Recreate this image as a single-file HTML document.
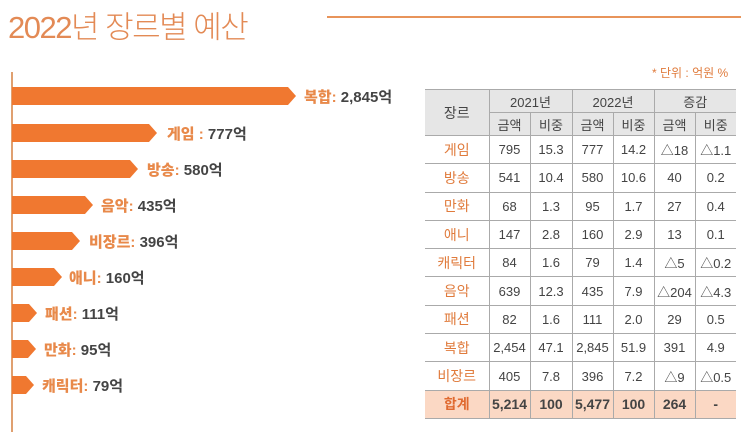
<!DOCTYPE html>
<html><head><meta charset="utf-8"><style>
*{margin:0;padding:0;box-sizing:border-box}
body{width:750px;height:436px;background:#fff;position:relative;overflow:hidden;font-family:"Liberation Sans","Noto Sans CJK KR",sans-serif}
.title{position:absolute;left:8px;top:2px;font-size:31px;color:#e38a55;font-weight:300;letter-spacing:-1.5px}
.topline{position:absolute;left:327px;top:16px;width:414px;height:2px;background:#e8945a}
.unit{position:absolute;left:652px;top:64px;font-size:12px;color:#e07b3c}
.axis{position:absolute;left:11px;top:72px;width:2px;height:360px;background:#e0a070}
.bar{position:absolute;left:12px;height:18px;background:#f07830}
.bar:after{content:"";position:absolute;right:-8px;top:0;border-left:8px solid #f07830;border-top:9px solid transparent;border-bottom:9px solid transparent}
.lab{position:absolute;font-size:15px;font-weight:bold;color:#444;white-space:nowrap}
.lab b{color:#e8894a}
table{position:absolute;left:425px;top:89px;border-collapse:collapse;font-size:13px;color:#444}
td{border:1px solid #aaa;text-align:center;height:28.3px;padding:0}
tr.h td{background:#e6e6e6;height:23px;font-size:13px}
td.g{color:#e07b3c;font-size:14px}
tr.t td{background:#fbd8c4;font-weight:bold;font-size:14px}
tr.t td.g{color:#e06a30}
table tr td:first-child{border-left:none}
table tr td:last-child{border-right:none}
</style></head><body>
<div class="title">2022년 장르별 예산</div>
<div class="topline"></div>
<div class="unit">* 단위 : 억원 %</div>
<div class="axis"></div>
<div class="bar" style="top:87px;width:276px"></div><div class="lab" style="left:304px;top:86px"><b>복합:</b> 2,845억</div>
<div class="bar" style="top:124px;width:137px"></div><div class="lab" style="left:167px;top:123px"><b>게임 :</b> 777억</div>
<div class="bar" style="top:160px;width:118px"></div><div class="lab" style="left:147px;top:159px"><b>방송:</b> 580억</div>
<div class="bar" style="top:196px;width:73px"></div><div class="lab" style="left:101px;top:195px"><b>음악:</b> 435억</div>
<div class="bar" style="top:232px;width:60px"></div><div class="lab" style="left:89px;top:231px"><b>비장르:</b> 396억</div>
<div class="bar" style="top:268px;width:42px"></div><div class="lab" style="left:69px;top:267px"><b>애니:</b> 160억</div>
<div class="bar" style="top:304px;width:17px"></div><div class="lab" style="left:45px;top:303px"><b>패션:</b> 111억</div>
<div class="bar" style="top:340px;width:16px"></div><div class="lab" style="left:44px;top:339px"><b>만화:</b> 95억</div>
<div class="bar" style="top:376px;width:14px"></div><div class="lab" style="left:42px;top:375px"><b>캐릭터:</b> 79억</div>
<table>
<colgroup><col style="width:64px"><col style="width:41px"><col style="width:42px"><col style="width:41px"><col style="width:41px"><col style="width:41px"><col style="width:41px"></colgroup>
<tr class="h"><td rowspan="2" style="font-size:14px">장르</td><td colspan="2">2021년</td><td colspan="2">2022년</td><td colspan="2">증감</td></tr>
<tr class="h"><td>금액</td><td>비중</td><td>금액</td><td>비중</td><td>금액</td><td>비중</td></tr>
<tr><td class="g">게임</td><td>795</td><td>15.3</td><td>777</td><td>14.2</td><td>△18</td><td>△1.1</td></tr>
<tr><td class="g">방송</td><td>541</td><td>10.4</td><td>580</td><td>10.6</td><td>40</td><td>0.2</td></tr>
<tr><td class="g">만화</td><td>68</td><td>1.3</td><td>95</td><td>1.7</td><td>27</td><td>0.4</td></tr>
<tr><td class="g">애니</td><td>147</td><td>2.8</td><td>160</td><td>2.9</td><td>13</td><td>0.1</td></tr>
<tr><td class="g">캐릭터</td><td>84</td><td>1.6</td><td>79</td><td>1.4</td><td>△5</td><td>△0.2</td></tr>
<tr><td class="g">음악</td><td>639</td><td>12.3</td><td>435</td><td>7.9</td><td>△204</td><td>△4.3</td></tr>
<tr><td class="g">패션</td><td>82</td><td>1.6</td><td>111</td><td>2.0</td><td>29</td><td>0.5</td></tr>
<tr><td class="g">복합</td><td>2,454</td><td>47.1</td><td>2,845</td><td>51.9</td><td>391</td><td>4.9</td></tr>
<tr><td class="g">비장르</td><td>405</td><td>7.8</td><td>396</td><td>7.2</td><td>△9</td><td>△0.5</td></tr>
<tr class="t"><td class="g">합계</td><td>5,214</td><td>100</td><td>5,477</td><td>100</td><td>264</td><td>-</td></tr>
</table>
</body></html>
